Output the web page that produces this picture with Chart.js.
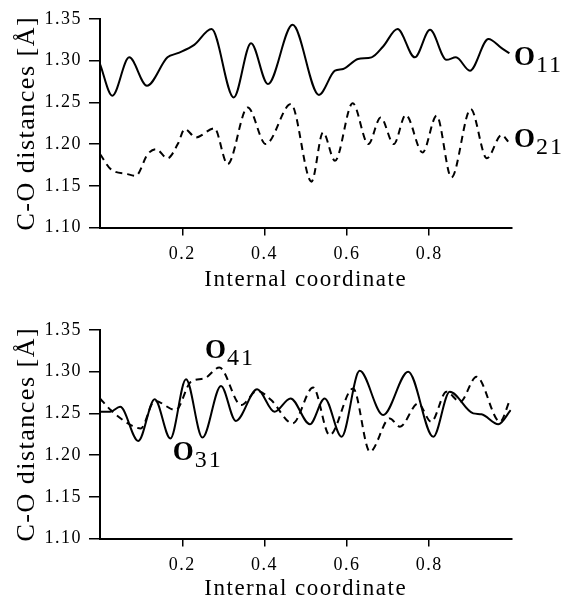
<!DOCTYPE html>
<html><head><meta charset="utf-8">
<script src="https://cdn.jsdelivr.net/npm/chart.js@4/dist/chart.umd.min.js"></script>
<style>
html,body{margin:0;padding:0;background:#fff;}
#wrap{position:relative;width:565px;height:598px;}
.c{position:absolute;left:0;width:565px;}
</style></head><body>
<div id="wrap">
<div class="c" style="top:0;height:300px"><canvas id="top"></canvas></div>
<div class="c" style="top:300px;height:298px"><canvas id="bot"></canvas></div>
</div>
<script>
// ---- data ----
const xTicks = [0.2, 0.4, 0.6, 0.8];
const yTicks = [1.10, 1.15, 1.20, 1.25, 1.30, 1.35];

const o11X = [0, 0.030, 0.071, 0.114, 0.164, 0.189, 0.229, 0.271, 0.325, 0.367, 0.408, 0.468, 0.532, 0.571, 0.591, 0.627, 0.660, 0.688, 0.723, 0.765, 0.802, 0.842, 0.865, 0.899, 0.944, 0.976, 0.995];
const o11Y = [1.296, 1.258, 1.304, 1.270, 1.304, 1.309, 1.319, 1.338, 1.256, 1.321, 1.272, 1.343, 1.259, 1.288, 1.290, 1.302, 1.304, 1.317, 1.338, 1.304, 1.337, 1.301, 1.304, 1.288, 1.326, 1.315, 1.309];

const o21X = [0, 0.026, 0.067, 0.087, 0.116, 0.136, 0.164, 0.189, 0.206, 0.233, 0.278, 0.310, 0.359, 0.403, 0.464, 0.514, 0.542, 0.571, 0.614, 0.652, 0.682, 0.714, 0.743, 0.784, 0.818, 0.854, 0.901, 0.940, 0.976, 0.992];
const o21Y = [1.188, 1.170, 1.164, 1.162, 1.188, 1.194, 1.183, 1.200, 1.218, 1.208, 1.219, 1.176, 1.244, 1.200, 1.248, 1.155, 1.214, 1.180, 1.249, 1.200, 1.232, 1.200, 1.235, 1.190, 1.234, 1.160, 1.242, 1.183, 1.211, 1.203];

const o31X = [0, 0.025, 0.049, 0.093, 0.133, 0.171, 0.209, 0.249, 0.294, 0.330, 0.382, 0.424, 0.463, 0.510, 0.546, 0.587, 0.631, 0.688, 0.749, 0.810, 0.850, 0.907, 0.927, 0.968, 0.998];
const o31Y = [1.252, 1.252, 1.258, 1.217, 1.267, 1.220, 1.291, 1.221, 1.283, 1.241, 1.279, 1.252, 1.268, 1.237, 1.268, 1.222, 1.301, 1.248, 1.300, 1.222, 1.276, 1.250, 1.249, 1.237, 1.254];

const o41X = [0, 0.026, 0.075, 0.099, 0.133, 0.184, 0.221, 0.254, 0.290, 0.343, 0.382, 0.416, 0.468, 0.518, 0.558, 0.615, 0.656, 0.704, 0.729, 0.773, 0.805, 0.842, 0.875, 0.915, 0.972, 0.996];
const o41Y = [1.268, 1.254, 1.236, 1.232, 1.265, 1.254, 1.288, 1.292, 1.305, 1.260, 1.277, 1.266, 1.238, 1.281, 1.224, 1.280, 1.204, 1.244, 1.234, 1.262, 1.240, 1.276, 1.264, 1.294, 1.240, 1.266];

const xTitle = 'Internal coordinate';
const yTitle = 'C-O distances [Å]';
const seriesSubs = ['11', '21', '31', '41'];

// ---- helpers ----
const FAM = '"Liberation Serif", "Times New Roman", serif';
const LS = '1.5px';
const pts = (xs, ys) => xs.map((x, i) => ({x: x, y: ys[i]}));

const spacingPlugin = {
  id: 'spacing',
  beforeUpdate(chart) { chart.ctx.letterSpacing = LS; },
  beforeDraw(chart) { chart.ctx.letterSpacing = LS; }
};

const labelPlugin = {
  id: 'olabels',
  afterDraw(chart, args, opts) {
    const ctx = chart.ctx;
    ctx.save();
    ctx.fillStyle = '#000';
    ctx.textBaseline = 'alphabetic';
    ctx.textAlign = 'left';
    (opts.items || []).forEach(it => {
      const px = chart.scales.x.getPixelForValue(it.x);
      const py = chart.scales.y.getPixelForValue(it.y);
      ctx.letterSpacing = '0px';
      ctx.font = 'bold 27px ' + FAM;
      ctx.fillText('O', px, py);
      const w = ctx.measureText('O').width;
      ctx.letterSpacing = '2px';
      ctx.font = '24px ' + FAM;
      ctx.fillText(it.sub, px + w + 1, py + 7);
    });
    ctx.restore();
  }
};

function makeChart(id, datasets, labels, padTop, xHeight, titlePadBottom) {
  return new Chart(document.getElementById(id), {
    type: 'line',
    data: { datasets: datasets },
    plugins: [spacingPlugin, labelPlugin],
    options: {
      responsive: true,
      maintainAspectRatio: false,
      animation: false,
      layout: { padding: { top: padTop, right: 53.5, left: 0, bottom: 0 } },
      plugins: {
        legend: { display: false },
        tooltip: { enabled: false },
        olabels: { items: labels }
      },
      elements: { point: { radius: 0 } },
      scales: {
        x: {
          type: 'linear', min: 0, max: 1,
          afterBuildTicks: s => { s.ticks = xTicks.map(v => ({value: v})); },
          afterFit: s => { s.height = xHeight; },
          ticks: { color: '#000', font: { family: FAM, size: 18 }, padding: 8, maxRotation: 0,
                   callback: v => v.toFixed(1) },
          grid: { display: true, drawOnChartArea: false, drawTicks: true, tickLength: 8, color: '#000', lineWidth: 1.5 },
          border: { display: true, color: '#000', width: 2 },
          title: { display: true, text: xTitle, color: '#000',
                   font: { family: FAM, size: 23, lineHeight: 1 }, padding: { top: 0, bottom: titlePadBottom } }
        },
        y: {
          type: 'linear', min: 1.10, max: 1.35,
          afterBuildTicks: s => { s.ticks = yTicks.map(v => ({value: v})); },
          afterFit: s => { s.width = 100; },
          ticks: { color: '#000', font: { family: FAM, size: 18 }, padding: 7,
                   callback: v => v.toFixed(2) },
          grid: { display: true, drawOnChartArea: false, drawTicks: true, tickLength: 11, color: '#000', lineWidth: 1.5 },
          border: { display: true, color: '#000', width: 2 },
          title: { display: true, text: yTitle, color: '#000',
                   font: { family: FAM, size: 26, lineHeight: 1 }, padding: { top: 14, bottom: 0 } }
        }
      }
    }
  });
}

const solid = { borderColor: '#000', borderWidth: 2, fill: false, cubicInterpolationMode: 'monotone' };
const dashed = { borderColor: '#000', borderWidth: 2, fill: false, cubicInterpolationMode: 'monotone', borderDash: [7, 5] };

makeChart('top', [
  Object.assign({ label: 'O' + seriesSubs[0], data: pts(o11X, o11Y) }, solid),
  Object.assign({ label: 'O' + seriesSubs[1], data: pts(o21X, o21Y) }, dashed)
], [
  { sub: seriesSubs[0], x: 1.006, y: 1.2948 },
  { sub: seriesSubs[1], x: 1.006, y: 1.1965 }
], 19, 72.5, 8.5);

makeChart('bot', [
  Object.assign({ label: 'O' + seriesSubs[2], data: pts(o31X, o31Y) }, solid),
  Object.assign({ label: 'O' + seriesSubs[3], data: pts(o41X, o41Y) }, dashed)
], [
  { sub: seriesSubs[3], x: 0.255, y: 1.3164 },
  { sub: seriesSubs[2], x: 0.177, y: 1.1941 }
], 30, 59.5, -2.5);
</script>
</body></html>
